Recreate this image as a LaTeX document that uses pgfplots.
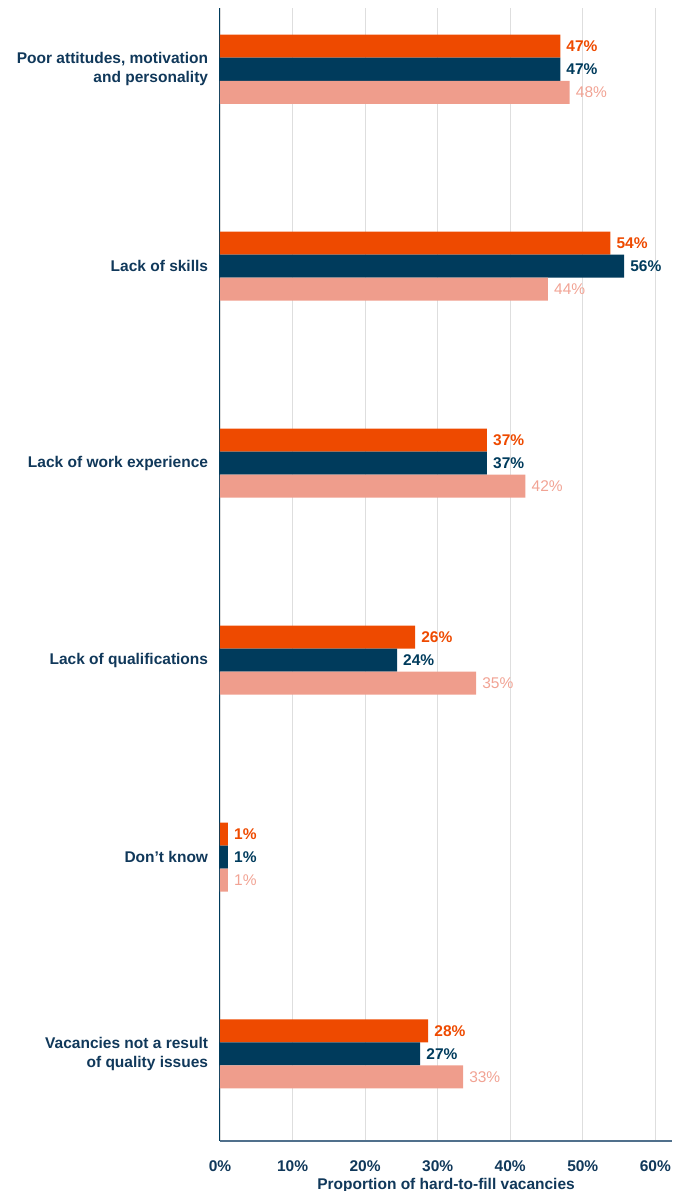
\documentclass[border=0pt]{standalone}
\usepackage{fontspec}
\setmainfont{Liberation Sans}[Ligatures=ResetAll]
\usepackage{pgfplots}
\pgfplotsset{compat=1.18}
\definecolor{orng}{RGB}{238,74,0}
\definecolor{navy}{RGB}{0,59,92}
\definecolor{pnk}{RGB}{239,157,140}
\definecolor{pnklab}{RGB}{241,163,148}
\definecolor{txt}{RGB}{16,56,90}
\definecolor{xax}{RGB}{80,112,140}
\definecolor{grd}{RGB}{222,222,222}
\newcommand\fs{\fontsize{15.5bp}{19bp}\selectfont}
\begin{document}
\begin{tikzpicture}
\begin{axis}[name=ax,
  scale only axis, width=452bp, height=1133bp,
  xmin=0, xmax=62.3, ymin=-0.311, ymax=5.442, y dir=reverse,
  xbar, bar width=0.1168,
  axis x line*=bottom, axis y line*=left,
  x axis line style={xax, line width=1.5bp},
  y axis line style={navy, line width=1bp},
  xtick={0,10,...,60},
  xticklabels={0\%,10\%,20\%,30\%,40\%,50\%,60\%},
  ytick={0,1,2,3,4,5},
  yticklabels={{Poor attitudes, motivation\\and personality},{Lack of skills},{Lack of work experience},{Lack of qualifications},{Don't know},{Vacancies not a result\\of quality issues}},
  tick style={draw=none},
  xmajorgrids, major grid style={grd, line width=1.2bp},
  ticklabel style={font=\fs\bfseries, text=txt, inner sep=0pt},
  yticklabel style={align=right, anchor=east, xshift=-7.5bp},
  xticklabel style={anchor=north, yshift=-19bp},
  xlabel={Proportion of hard-to-fill vacancies},
  xlabel style={font=\fs\bfseries, text=txt, at={(axis description cs:0.5,0)}, anchor=north, inner sep=0pt, yshift=-37bp},
  point meta=explicit symbolic,
  nodes near coords,
  nodes near coords style={anchor=west, inner sep=0pt, xshift=6bp, font=\fs\bfseries},
]
\addplot[fill=orng, draw=none, bar shift=-0.1168, every node near coord/.append style={text=orng}]
coordinates {(46.9,0)[47\%] (53.8,1)[54\%] (36.8,2)[37\%] (26.9,3)[26\%] (1.1,4)[1\%] (28.7,5)[28\%]};
\addplot[fill=navy, draw=none, bar shift=0, every node near coord/.append style={text=navy}]
coordinates {(46.9,0)[47\%] (55.7,1)[56\%] (36.8,2)[37\%] (24.4,3)[24\%] (1.1,4)[1\%] (27.6,5)[27\%]};
\addplot[fill=pnk, draw=none, bar shift=0.1168, every node near coord/.append style={text=pnklab, font=\fs}]
coordinates {(48.2,0)[48\%] (45.2,1)[44\%] (42.1,2)[42\%] (35.3,3)[35\%] (1.1,4)[1\%] (33.5,5)[33\%]};
\end{axis}
\pgfresetboundingbox
\path ([shift={(-220bp,-50bp)}]ax.south west) rectangle ([shift={(1bp,8bp)}]ax.north east);
\end{tikzpicture}
\end{document}
